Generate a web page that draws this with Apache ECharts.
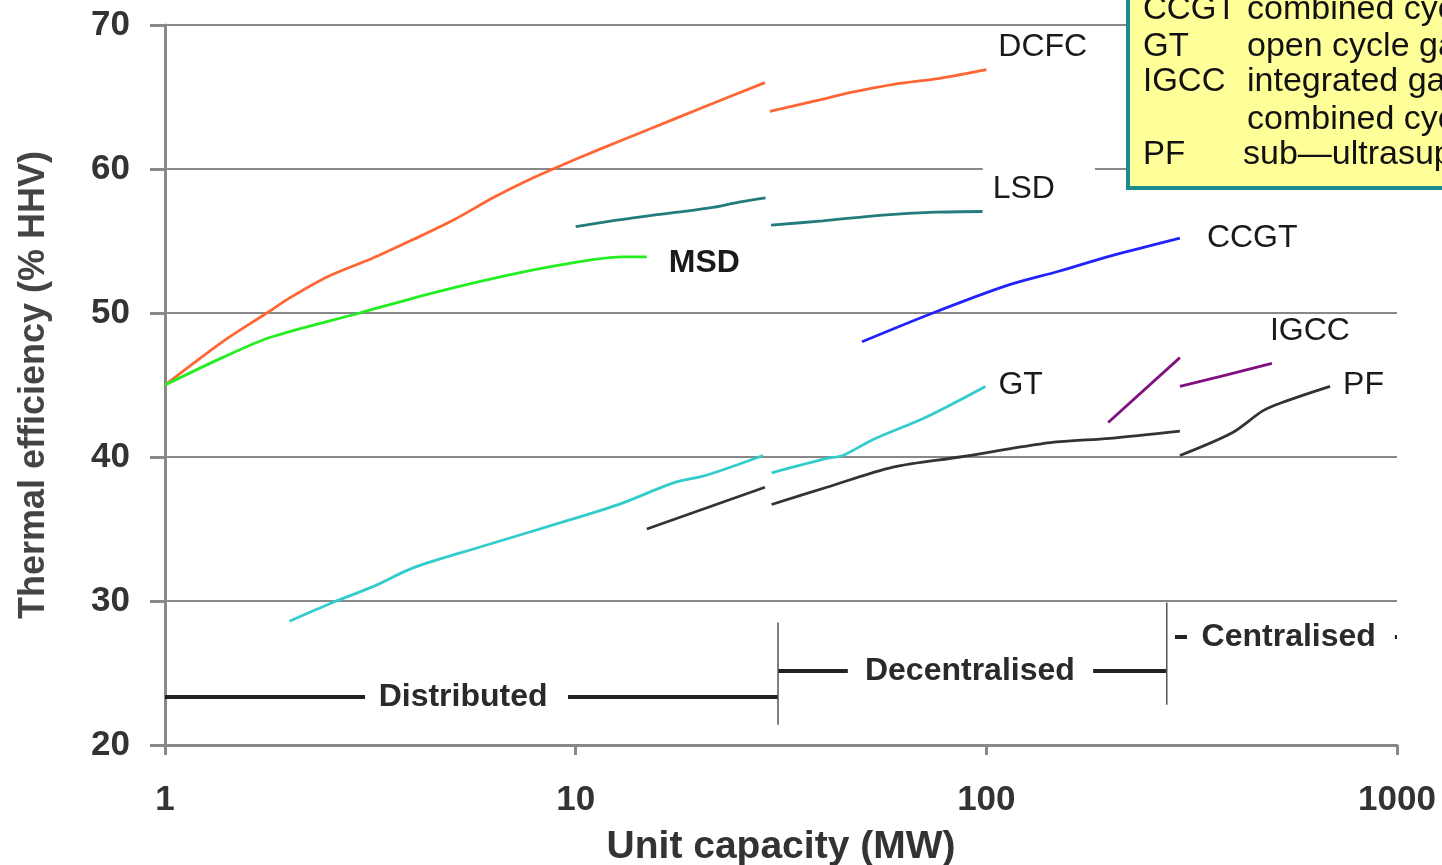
<!DOCTYPE html>
<html>
<head>
<meta charset="utf-8">
<script src="https://cdn.jsdelivr.net/npm/echarts@6/dist/echarts.min.js"></script>
<style>
html,body{margin:0;padding:0;background:#fff;}
#chart{width:1442px;height:865px;}
</style>
</head>
<body>
<div id="chart"></div>
<script>
// ---- data (x = unit capacity MW, y = thermal efficiency % HHV) ----
var dcfcA = [[1,45.0],[1.38,48.0],[1.77,50.0],[2.0,51.0],[2.48,52.5],[3.2,53.8],[4.02,55.1],[5.0,56.4],[6.29,58.0],[7.5,59.1],[8.81,60.0],[11.5,61.4],[15.2,62.8],[20.1,64.2],[28.9,66.0]];
var dcfcB = [[29.7,64.0],[39.3,64.8],[46.5,65.3],[60,65.9],[77,66.3],[100,66.9]];
var lsdA  = [[10,56.0],[13.8,56.6],[21.2,57.3],[25,57.7],[29,58.0]];
var lsdB  = [[29.9,56.1],[40,56.4],[56,56.8],[75,57.0],[98,57.05]];
var msd   = [[1,45.0],[1.38,46.9],[1.8,48.3],[2.98,50.0],[4.5,51.4],[7.32,52.8],[11.0,53.7],[13,53.9],[14.9,53.9]];
var ccgt  = [[49.8,48.0],[74.1,50.0],[112,51.9],[150,52.9],[197,53.9],[230,54.4],[296,55.2]];
var gtA   = [[2.01,28.6],[2.56,29.9],[3.21,31.0],[4.02,32.3],[5.85,33.75],[9.85,35.7],[13.0,36.8],[17.3,38.2],[20.9,38.75],[28.6,40.1]];
var gtB   = [[30,38.9],[40.9,39.9],[44.7,40.1],[52.9,41.2],[71.7,42.8],[99.5,44.9]];
var pfA   = [[14.9,35.0],[28.9,37.9]];
var pfB   = [[30,36.7],[40.9,37.9],[59.3,39.3],[86.2,40.0],[143,41.0],[200,41.3],[296,41.8]];
var pfC   = [[296,40.1],[398,41.7],[471,43.2],[527,43.8],[687,44.9]];
var igccA = [[198,42.4],[296,46.9]];
var igccB = [[296,44.9],[385,45.7],[496,46.5]];

// region brackets (segments either side of each label)
var distributedL   = [[1,23.33],[3.07,23.33]];
var distributedR   = [[9.58,23.33],[31.1,23.33]];
var decentralisedL = [[31.1,25.14],[46.0,25.14]];
var decentralisedR = [[182,25.14],[275,25.14]];
var centralisedL   = [[288,27.5],[308,27.5]];
var centralisedR   = [[988,27.5],[1000,27.5]];
var dividerA = [[31.1,21.4],[31.1,28.5]];
var dividerB = [[275,22.8],[275,29.9]];
var regionLabels = [['Distributed',5.32,23.33],['Decentralised',91.2,25.14],['Centralised',545,27.5]];

var yTicks = [20,30,40,50,60,70];
var xTicks = [1,10,100,1000];
var legendAbbr = ['CCGT','GT','IGCC','','PF'];
var legendDesc = ['combined cycle gas turbine','open cycle gas turbine','integrated gasification','combined cycle','sub\u2014ultrasupercritical pulverised fuel'];

var FONT = "'Liberation Sans', Arial, sans-serif";
var chart = echarts.init(document.getElementById('chart'), null, {renderer:'canvas'});

function seg(data, color, label, lab) {
  var s = {
    type:'line', data:data, showSymbol:false, symbol:'none', smooth:0.3,
    lineStyle:{color:color, width:2.8}, z:3, silent:true
  };
  if (label) {
    s.endLabel = Object.assign({
      show:true, formatter:label, distance:0, color:'#1a1a1a',
      fontFamily:FONT, fontSize:32
    }, lab);
  }
  return s;
}
function bracket(data, width, color) {
  return {type:'line', data:data, showSymbol:false, symbol:'none',
    lineStyle:{color:color, width:width}, z:2, silent:true};
}

var series = [
  seg(dcfcA,'#FF6633'), seg(dcfcB,'#FF6633','DCFC',{offset:[12,-22]}),
  seg(lsdA,'#237B7D'), seg(lsdB,'#237B7D','LSD',{offset:[0,-22], backgroundColor:'#fff', padding:[8,40,8,10]}),
  seg(msd,'#22EE22','MSD',{offset:[22,6], fontWeight:'bold'}),
  seg(ccgt,'#2222FF','CCGT',{offset:[27,0]}),
  seg(gtA,'#33CCCC'), seg(gtB,'#33CCCC','GT',{offset:[13,-1]}),
  seg(pfA,'#333333'), seg(pfB,'#333333'), seg(pfC,'#333333','PF',{offset:[13,-1]}),
  seg(igccA,'#801080'), seg(igccB,'#801080','IGCC',{offset:[-2,-32]}),
  bracket(distributedL,4,'#222'), bracket(distributedR,4,'#222'),
  bracket(decentralisedL,4,'#222'), bracket(decentralisedR,4,'#222'),
  bracket(centralisedL,4,'#222'), bracket(centralisedR,4,'#222'),
  bracket(dividerA,1.5,'#555'), bracket(dividerB,1.5,'#555'),
  {
    type:'scatter', symbol:'circle', symbolSize:1, z:5, silent:true,
    itemStyle:{color:'rgba(0,0,0,0)', opacity:1},
    data: regionLabels.map(function(r){ return {value:[r[1],r[2]], name:r[0]}; }),
    label:{show:true, position:'inside', formatter:function(p){return p.name;},
      color:'#2a2a2a', opacity:1, fontFamily:FONT, fontSize:32, fontWeight:'bold'}
  }
];

var graphics = [{
  type:'rect', shape:{x:1128, y:-20, width:400, height:208},
  style:{fill:'#FFFF99', stroke:'#1A8A8A', lineWidth:4}, z:100
}];
var rowY = [10,47,82,120,155];
legendAbbr.forEach(function(a,i){
  graphics.push({type:'text', x:1143, y:rowY[i], z:101,
    style:{text:a, font:'33px '+FONT, fill:'#111', verticalAlign:'middle'}});
  graphics.push({type:'text', x:(i===4?1243:1247), y:rowY[i], z:101,
    style:{text:legendDesc[i], font:'34px '+FONT, fill:'#111', verticalAlign:'middle'}});
});

chart.setOption({
  animation:false,
  backgroundColor:'#fff',
  grid:{left:165, right:45, top:25, bottom:120, containLabel:false, outerBoundsMode:'none'},
  xAxis:{
    type:'log', logBase:10, min:1, max:1000,
    name:'Unit capacity (MW)', nameLocation:'middle', nameGap:83,
    nameTextStyle:{fontFamily:FONT, fontSize:39, fontWeight:'bold', color:'#333'},
    axisLine:{show:true, lineStyle:{color:'#888', width:3}},
    axisTick:{show:true, length:10, lineStyle:{color:'#888', width:3}},
    axisLabel:{fontFamily:FONT, fontSize:35, fontWeight:'bold', color:'#333', margin:38,
      formatter:function(v){ return xTicks.indexOf(Math.round(v))>=0 ? String(Math.round(v)) : ''; }},
    splitLine:{show:false}, minorTick:{show:false}
  },
  yAxis:{
    type:'value', min:20, max:70, interval:10,
    name:'Thermal efficiency (% HHV)', nameLocation:'middle', nameGap:113,
    nameTextStyle:{fontFamily:FONT, fontSize:36, fontWeight:'bold', color:'#444'},
    axisLine:{show:true, lineStyle:{color:'#888', width:3}},
    axisTick:{show:true, length:15, lineStyle:{color:'#888', width:3}},
    axisLabel:{fontFamily:FONT, fontSize:35, fontWeight:'bold', color:'#333', margin:35,
      formatter:function(v){ return yTicks.indexOf(v)>=0 ? String(v) : ''; }},
    splitLine:{show:true, lineStyle:{color:'#888', width:2}}
  },
  series:series,
  graphic:graphics
});
</script>
</body>
</html>
